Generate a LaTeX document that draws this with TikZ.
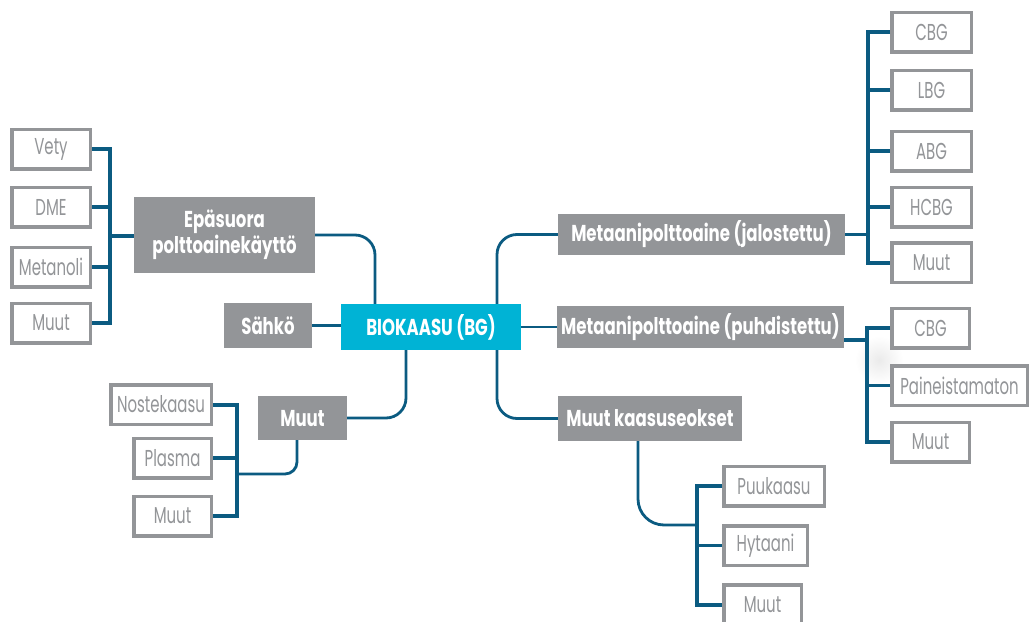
\documentclass[tikz,border=0pt]{standalone}
\usepackage{fontspec}
\setmainfont{Poppins}[FakeStretch=0.72]
\newfontfamily\leaffont{Poppins}[FakeStretch=0.65]
\definecolor{boxgray}{HTML}{939598}
\definecolor{biocyan}{HTML}{00B3D5}
\definecolor{linkblue}{HTML}{0B5B81}
\begin{document}
\begin{tikzpicture}[x=1pt,y=-1pt,
  leaf/.style={draw=boxgray, line width=3.5pt, fill=white, text=boxgray,
    font=\leaffont\fontsize{23}{25}\selectfont, inner sep=0pt, minimum height=39.5pt},
  hub/.style={fill=boxgray, text=white, font=\fontsize{23}{26}\selectfont\bfseries,
    inner sep=0pt, minimum height=44pt, align=center},
  root/.style={hub, fill=biocyan},
  link/.style={draw=linkblue, line width=2.8pt},
  bar/.style={draw=linkblue, line width=4pt},
  stub/.style={draw=linkblue, line width=3.5pt},
]
\clip (0,0) rectangle (1030,621);

% faint smudge behind the right-hand middle group
\shade[inner color=black!8, outer color=white] (879,360) circle (24);

% centre
\node[root, minimum width=180pt, minimum height=46pt] (bio) at (431,327) {BIOKAASU (BG)};

% left branch: indirect fuel use
\node[hub, minimum width=181pt, minimum height=76pt] (epa) at (224.5,235) {Epäsuora\\polttoainekäyttö};
\node[leaf, minimum width=78.5pt] (vety) at (51,149) {Vety};
\node[leaf, minimum width=78.5pt] (dme)  at (51,207) {DME};
\node[leaf, minimum width=78.5pt] (meta) at (51,267) {Metanoli};
\node[leaf, minimum width=78.5pt] (muutl) at (51,323) {Muut};

% electricity
\node[hub, minimum width=88pt, minimum height=45pt] (sahko) at (268,325.5) {Sähkö};

% left lower branch
\node[hub, minimum width=89pt] (muutm) at (302.5,418) {Muut};
\node[leaf, minimum width=100.5pt] (noste) at (161,404.5) {Nostekaasu};
\node[leaf, minimum width=77.5pt] (plasma) at (172.5,458) {Plasma};
\node[leaf, minimum width=77.5pt] (muutll) at (172.5,516) {Muut};

% right branches
\node[hub, minimum width=287pt, minimum height=41pt] (jal) at (701.5,234.5) {Metaanipolttoaine (jalostettu)};
\node[hub, minimum width=287pt, minimum height=42pt] (puh) at (700.5,327) {Metaanipolttoaine (puhdistettu)};
\node[hub, minimum width=184pt, minimum height=45pt] (kaa) at (650,418.5) {Muut kaasuseokset};

% upgraded methane leaves
\node[leaf, minimum width=79.5pt] (cbga) at (931.5,32) {CBG};
\node[leaf, minimum width=79.5pt] (lbg)  at (931.5,90) {LBG};
\node[leaf, minimum width=79.5pt] (abg)  at (931.5,151) {ABG};
\node[leaf, minimum width=79.5pt] (hcbg) at (931.5,207) {HCBG};
\node[leaf, minimum width=79.5pt] (muuttr) at (931.5,262.5) {Muut};

% cleaned methane leaves
\node[leaf, minimum width=77.5pt] (cbgb) at (930.5,328) {CBG};
\node[leaf, minimum width=135.5pt] (paine) at (959.5,385.5) {Paineistamaton};
\node[leaf, minimum width=77.5pt] (muutmr) at (930.5,442) {Muut};

% other gas mixtures leaves
\node[leaf, minimum width=100.5pt] (puu) at (774,486) {Puukaasu};
\node[leaf, minimum width=83.5pt] (hyt) at (765.5,545.5) {Hytaani};
\node[leaf, minimum width=77.5pt] (muutb) at (762.5,604.5) {Muut};

% junction points
\coordinate (barL) at (110,236);
\coordinate (jC) at (375,0);
\coordinate (jB) at (406,0);
\coordinate (jA) at (297,474);
\coordinate (barLL) at (237,474);
\coordinate (jD) at (497,0);
\coordinate (barTR) at (868,0);
\coordinate (jE) at (867,340);
\coordinate (jG) at (638,525);
\coordinate (barB) at (697,525);

% connectors from the centre
\draw[link, rounded corners=20pt] (epa.east) -| (bio.north -| jC);
\draw[link] (sahko.east) -- (sahko.east -| bio.west);
\draw[link, rounded corners=20pt] (bio.south -| jB) |- (muutm.east);
\draw[link, rounded corners=20pt] (bio.north -| jD) |- (jal.west);
\draw[link] (bio.east) -- (puh.west);
\draw[link, rounded corners=20pt] (bio.south -| jD) |- (kaa.west);

% left group
\draw[stub] (epa.west |- barL) -- (barL);
\draw[bar] (vety.east) -- (vety.east -| barL) -- (muutl.east -| barL) -- (muutl.east);
\draw[stub] (dme.east) -- (dme.east -| barL);
\draw[stub] (meta.east) -- (meta.east -| barL);

% left lower group
\draw[link, rounded corners=12pt] (muutm.south -| jA) -- (jA) -- (barLL);
\draw[bar] (noste.east) -- (noste.east -| barLL) -- (muutll.east -| barLL) -- (muutll.east);
\draw[stub] (plasma.east) -- (plasma.east -| barLL);

% upgraded methane group
\draw[stub] (jal.east) -- (jal.east -| barTR);
\draw[bar] (cbga.west) -- (cbga.west -| barTR) -- (muuttr.west -| barTR) -- (muuttr.west);
\draw[stub] (lbg.west) -- (lbg.west -| barTR);
\draw[stub] (abg.west) -- (abg.west -| barTR);
\draw[stub] (hcbg.west) -- (hcbg.west -| barTR);

% cleaned methane group
\draw[stub] (puh.east |- jE) -- (jE);
\draw[bar] (cbgb.west) -- (cbgb.west -| jE) -- (muutmr.west -| jE) -- (muutmr.west);
\draw[stub] (paine.west) -- (paine.west -| jE);

% other gas mixtures group
\draw[link, rounded corners=26pt] (kaa.south -| jG) -- (jG) -- (barB);
\draw[bar] (puu.west) -- (puu.west -| barB) -- (muutb.west -| barB) -- (muutb.west);
\draw[stub] (hyt.west) -- (hyt.west -| barB);
\end{tikzpicture}
\end{document}
